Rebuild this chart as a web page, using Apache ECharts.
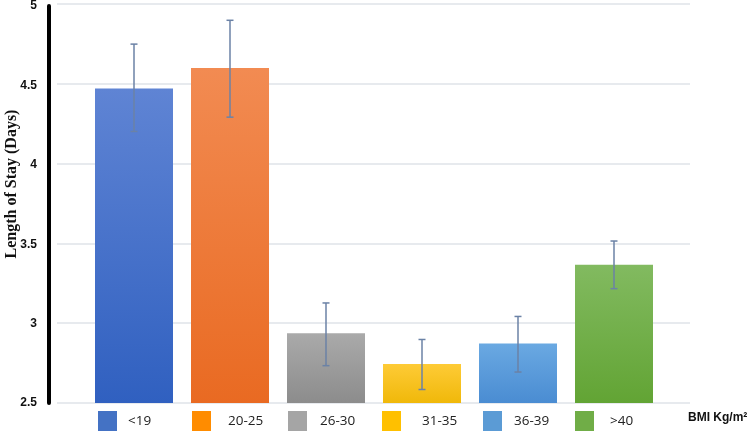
<!DOCTYPE html>
<html lang="en">
  <head>
    <meta charset="UTF-8" />
    <title>Length of stay by BMI</title>
    <style type="text/css">
      body { margin: 0; background-color: #fff; }
      #main { width: 750px; height: 434px; }
    </style>
  </head>
  <body>
    <div id="main"></div>
    <script src="https://cdn.jsdelivr.net/npm/echarts@6/dist/echarts.min.js"></script>
    <script type="text/javascript">
      var categories = ["<19", "20-25", "26-30", "31-35", "36-39", ">40"];
      var meanStay = [4.48, 4.61, 2.94, 2.745, 2.875, 3.37];
      var errLow = [4.21, 4.30, 2.735, 2.585, 2.695, 3.22];
      var errHigh = [4.76, 4.91, 3.13, 2.90, 3.045, 3.52];
      var yTicks = [2.5, 3, 3.5, 4, 4.5, 5];

      var topColors = ["#5f84d4", "#f28b52", "#aaaaaa", "#fecb36", "#6aa9e2", "#82ba60"];
      var bottomColors = ["#3060c0", "#e96a22", "#8c8c8c", "#f0b80a", "#4a8cd2", "#62a434"];
      var swatchColors = ["#4472c4", "#ff8c00", "#a5a5a5", "#ffc000", "#5b9bd5", "#70ad47"];
      var legendLeft = [98, 192, 288, 382, 483, 575];
      var legendPad = [6, 12, 8, 16, 7, 11];

      var chartDom = document.getElementById("main");
      var myChart = echarts.init(chartDom);

      var series = categories.map(function (name, i) {
        var data = categories.map(function (c, j) { return j === i ? meanStay[i] : "-"; });
        return {
          name: name,
          type: "bar",
          xAxisIndex: 1,
          yAxisIndex: 1,
          barWidth: 78,
          barGap: "-100%",
          data: data,
          itemStyle: {
            color: new echarts.graphic.LinearGradient(0, 0, 0, 1, [
              { offset: 0, color: topColors[i] },
              { offset: 1, color: bottomColors[i] }
            ])
          }
        };
      });

      // error bars
      series.push({
        type: "custom",
        xAxisIndex: 1,
        yAxisIndex: 1,
        z: 10,
        data: categories.map(function (c, i) { return [i, errLow[i], errHigh[i]]; }),
        renderItem: function (params, api) {
          var lo = api.coord([api.value(0), api.value(1)]);
          var hi = api.coord([api.value(0), api.value(2)]);
          var st = { stroke: "#6b82a6", lineWidth: 1.5 };
          return {
            type: "group",
            children: [
              { type: "line", shape: { x1: hi[0], y1: hi[1], x2: lo[0], y2: lo[1] }, style: st },
              { type: "line", shape: { x1: hi[0] - 3.5, y1: hi[1], x2: hi[0] + 3.5, y2: hi[1] }, style: st },
              { type: "line", shape: { x1: lo[0] - 3.5, y1: lo[1], x2: lo[0] + 3.5, y2: lo[1] }, style: st }
            ]
          };
        }
      });

      var legends = categories.map(function (name, i) {
        return {
          data: [{ name: name, itemStyle: { color: swatchColors[i] } }],
          left: legendLeft[i],
          top: 411,
          padding: 0,
          itemWidth: 19,
          itemHeight: 20,
          icon: "rect",
          selectedMode: false,
          textStyle: {
            fontFamily: "Open Sans",
            fontSize: 13.5,
            color: "#222",
            padding: [3, 0, 0, legendPad[i]]
          }
        };
      });

      var option = {
        animation: false,
        grid: [
          { left: 57, right: 60, top: 4, bottom: 31 },
          { left: 86, right: 88, top: 4, bottom: 31 }
        ],
        xAxis: [
          { type: "category", gridIndex: 0, data: categories, show: false },
          {
            type: "category", gridIndex: 1, data: categories,
            axisLine: { show: false }, axisTick: { show: false }, axisLabel: { show: false }
          }
        ],
        yAxis: [
          {
            type: "value", gridIndex: 0, min: 2.5, max: 5, interval: 0.5,
            axisLine: { show: false }, axisTick: { show: false }, axisLabel: { show: false },
            splitLine: { lineStyle: { color: "#dfe3e8", width: 1.5 } }
          },
          {
            type: "value", gridIndex: 1, min: 2.5, max: 5, interval: 0.5, offset: 37,
            axisLine: { show: true, lineStyle: { color: "#000", width: 4 } },
            axisTick: { show: false },
            splitLine: { show: false },
            axisLabel: {
              margin: 12,
              fontFamily: "Liberation Sans",
              fontWeight: "bold",
              fontSize: 12,
              color: "#111",
              formatter: function (v) { return yTicks.indexOf(v) >= 0 ? String(v) : ""; }
            }
          }
        ],
        legend: legends,
        graphic: [
          {
            type: "text",
            x: 12, y: 184,
            rotation: Math.PI / 2,
            style: {
              text: "Length of Stay (Days)",
              font: "bold 16px 'Liberation Serif'",
              fill: "#111",
              textAlign: "center",
              textVerticalAlign: "middle"
            }
          },
          {
            type: "text",
            left: 688, top: 412,
            style: {
              text: "BMI Kg/m²",
              font: "bold 12px 'Liberation Sans'",
              fill: "#111"
            }
          }
        ],
        series: series
      };

      myChart.setOption(option);
    </script>
  </body>
</html>
